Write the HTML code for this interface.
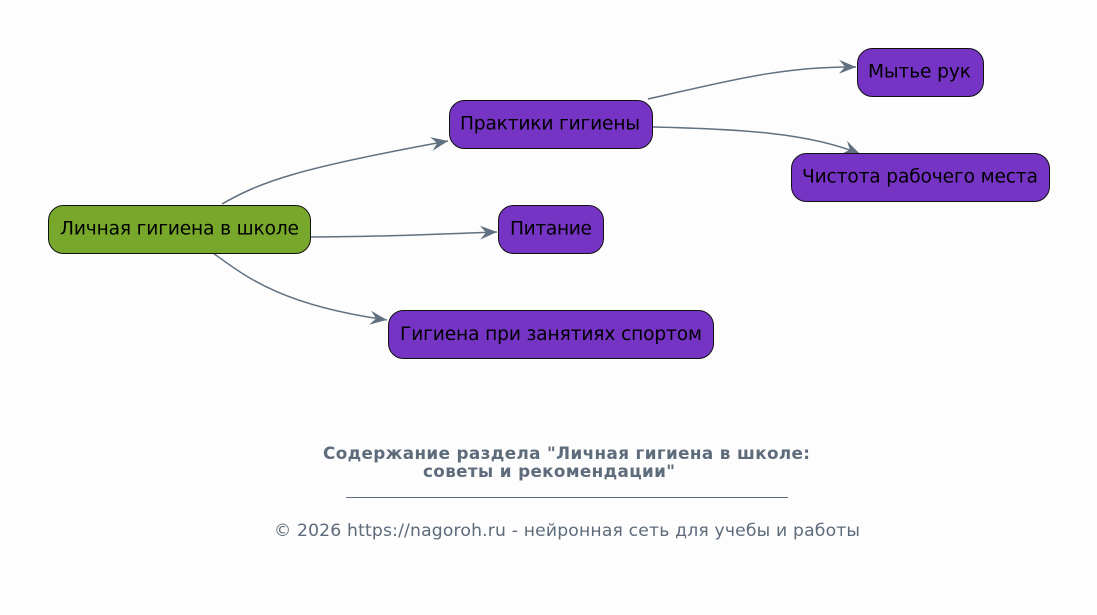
<!DOCTYPE html>
<html>
<head>
<meta charset="utf-8">
<style>
  html, body { margin:0; padding:0; background:#fdfdfd; }
  svg { display:block; }
  .n { font-family:"DejaVu Sans","Liberation Sans",sans-serif; font-size:18.6px; fill:#000; }
  .t { font-family:"DejaVu Sans","Liberation Sans",sans-serif; font-size:16.8px; font-weight:bold; fill:#5d6b7b; }
  .f { font-family:"DejaVu Sans","Liberation Sans",sans-serif; font-size:17.2px; fill:#5d6b7b; }
  .e { fill:none; stroke:#607080; stroke-width:1.5; }
</style>
</head>
<body>
<svg width="1097" height="615" viewBox="0 0 1097 615" xmlns="http://www.w3.org/2000/svg">
  <defs>
    <marker id="v" markerUnits="userSpaceOnUse" markerWidth="22" markerHeight="16" refX="17" refY="7" orient="auto">
      <path d="M0,0 L17,7 L0,14 L6,7 Z" fill="#607080"/>
    </marker>
  </defs>
  <rect x="0" y="0" width="1097" height="615" fill="#fdfdfd"/>

  <!-- edges -->
  <path class="e" d="M222,204 C262,181 300,168 448,141" marker-end="url(#v)"/>
  <path class="e" d="M311,237 C380,237 440,234 497,232" marker-end="url(#v)"/>
  <path class="e" d="M213,253 C245,276 280,305 387,320" marker-end="url(#v)"/>
  <path class="e" d="M648,99 C720,83 780,66 856,67" marker-end="url(#v)"/>
  <path class="e" d="M653,127 C740,129 810,133 860,154" marker-end="url(#v)"/>

  <!-- nodes -->
  <rect x="48.5" y="205.5" width="262" height="48" rx="15" ry="15" fill="#78a82b" stroke="#111" stroke-width="1"/>
  <text class="n" x="60" y="234.5" textLength="239" lengthAdjust="spacing">Личная гигиена в школе</text>

  <rect x="449.5" y="100.5" width="203" height="48" rx="15" ry="15" fill="#7634c4" stroke="#111" stroke-width="1"/>
  <text class="n" x="460" y="129.5" textLength="180" lengthAdjust="spacing">Практики гигиены</text>

  <rect x="498.5" y="205.5" width="105" height="48" rx="15" ry="15" fill="#7634c4" stroke="#111" stroke-width="1"/>
  <text class="n" x="510" y="234.5" textLength="82" lengthAdjust="spacing">Питание</text>

  <rect x="388.5" y="310.5" width="325" height="48" rx="15" ry="15" fill="#7634c4" stroke="#111" stroke-width="1"/>
  <text class="n" x="400" y="340" textLength="302" lengthAdjust="spacing">Гигиена при занятиях спортом</text>

  <rect x="857.5" y="48.5" width="126" height="48" rx="15" ry="15" fill="#7634c4" stroke="#111" stroke-width="1"/>
  <text class="n" x="868" y="77.5" textLength="103" lengthAdjust="spacing">Мытье рук</text>

  <rect x="791.5" y="153.5" width="258" height="48" rx="15" ry="15" fill="#7634c4" stroke="#111" stroke-width="1"/>
  <text class="n" x="802" y="182.5" textLength="236" lengthAdjust="spacing">Чистота рабочего места</text>

  <!-- title -->
  <text class="t" x="323" y="459" textLength="487" lengthAdjust="spacing">Содержание раздела "Личная гигиена в школе:</text>
  <text class="t" x="423" y="477" textLength="252" lengthAdjust="spacing">советы и рекомендации"</text>
  <line x1="346" y1="497.5" x2="788" y2="497.5" stroke="#5d6b7b" stroke-width="1"/>
  <text class="f" x="274" y="536" textLength="586" lengthAdjust="spacing">© 2026 https://nagoroh.ru - нейронная сеть для учебы и работы</text>
</svg>
</body>
</html>
